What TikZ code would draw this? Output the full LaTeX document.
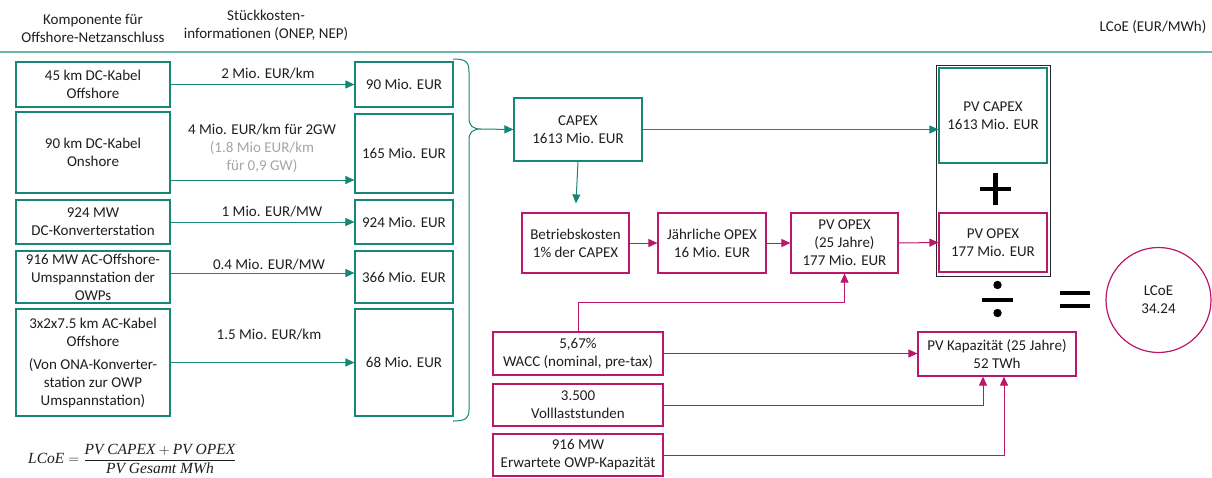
\documentclass[tikz,border=0pt]{standalone}
\usepackage{fontspec}
\setmainfont{Carlito}
\newfontfamily\fserif{Liberation Serif}
\usetikzlibrary{arrows.meta}
\definecolor{tealc}{RGB}{22,134,118}
\definecolor{teall}{RGB}{108,184,170}
\definecolor{magc}{RGB}{186,22,106}
\definecolor{txt}{RGB}{30,30,30}
\definecolor{grayt}{RGB}{165,165,165}
\begin{document}
\begin{tikzpicture}[x=1pt,y=-1pt,
  font=\fontsize{15}{18}\selectfont, text=txt,
  box/.style={draw, line width=1.2pt, align=center, inner sep=0pt, text=txt},
  tbox/.style={box, draw=tealc},
  mbox/.style={box, draw=magc},
  lbl/.style={align=center, inner sep=0pt, text=txt},
  tarr/.style={draw=tealc, line width=1pt, -{Triangle[length=9pt,width=8pt]}},
  marr/.style={draw=magc, line width=1pt, -{Triangle[length=9pt,width=8pt]}},
  sym/.style={line width=4.5pt, black}]
\useasboundingbox (0,0) rectangle (1212,477);

% header
\node[lbl] (h1) at (93,28) {Komponente für\\Offshore-Netzanschluss};
\node[lbl] (h2) at (266,25) {Stückkosten-\\informationen (ONEP, NEP)};
\node[lbl] (h3) at (1153,27) {LCoE (EUR/MWh)};
\coordinate (hl) at (0,52);
\coordinate (hr) at (1212,52);
\draw[teall, line width=1.6pt] (hl) -- (hr);

% left component boxes
\node[tbox, minimum width=154pt, minimum height=45pt] (l1) at (93,84.5) {45 km DC-Kabel\\Offshore};
\node[tbox, minimum width=154pt, minimum height=81pt] (l2) at (93,152.5) {90 km DC-Kabel\\Onshore};
\node[tbox, minimum width=154pt, minimum height=44pt] (l3) at (93,222) {924 MW\\DC-Konverterstation};
\node[tbox, minimum width=154pt, minimum height=52pt] (l4) at (93,277) {916 MW AC-Offshore-\\Umspannstation der\\OWPs};
\node[tbox, minimum width=154pt, minimum height=107pt] (l5) at (93,362.5) {3x2x7.5 km AC-Kabel\\Offshore\\[5pt](Von ONA-Konverter-\\station zur OWP\\Umspannstation)};

% cost boxes
\node[tbox, minimum width=98pt, minimum height=45pt] (c1) at (404,84.5) {90 Mio. EUR};
\node[tbox, minimum width=98pt, minimum height=79pt] (c2) at (404,153.5) {165 Mio. EUR};
\node[tbox, minimum width=98pt, minimum height=44pt] (c3) at (404,222) {924 Mio. EUR};
\node[tbox, minimum width=98pt, minimum height=52pt] (c4) at (404,277) {366 Mio. EUR};
\node[tbox, minimum width=98pt, minimum height=107pt] (c5) at (404,362.5) {68 Mio. EUR};

% arrows left -> cost
\draw[tarr] (l1.east) -- (c1.west);
\draw[tarr] (l2.east |- 0,180) -- (c2.west |- 0,180);
\draw[tarr] (l3.east) -- (c3.west);
\draw[tarr] (l4.east |- 0,273) -- (c4.west |- 0,273);
\draw[tarr] (l5.east) -- (c5.west);

% arrow labels
\node[lbl] (a1) at (268,74) {2 Mio. EUR/km};
\node[lbl] (a2) at (262,148) {4 Mio. EUR/km für 2GW\\{\color{grayt}(1.8 Mio EUR/km}\\{\color{grayt}für 0,9 GW)}};
\node[lbl] (a3) at (272,212) {1 Mio. EUR/MW};
\node[lbl] (a4) at (269,265) {0.4 Mio. EUR/MW};
\node[lbl] (a5) at (269,335) {1.5 Mio. EUR/km};

% brace
\coordinate (tip) at (481,129);
\coordinate (bt) at (453,59);
\coordinate (bb) at (453,421);
\draw[tealc, line width=1pt] (bt) .. controls (466,59) and (469,62) .. (469,72) -- (469,118)
  .. controls (469,126) and (473,129) .. (tip)
  .. controls (473,129) and (469,132) .. (469,140) -- (469,410)
  .. controls (469,418) and (466,421) .. (bb);

% CAPEX chain
\node[tbox, minimum width=128pt, minimum height=63pt] (capex) at (578,129.5) {CAPEX\\1613 Mio. EUR};
\draw[tarr] (tip) -- (capex.west);

\node[mbox, minimum width=107pt, minimum height=60pt] (betr) at (575.5,243) {Betriebskosten\\1\% der CAPEX};
\node[mbox, minimum width=108pt, minimum height=60pt] (jahr) at (712,243) {Jährliche OPEX\\16 Mio. EUR};
\node[mbox, minimum width=107pt, minimum height=60pt] (pvo) at (844.5,243) {PV OPEX\\(25 Jahre)\\177 Mio. EUR};

\draw[tarr, shorten >=9pt] (capex.south) -- (betr.north);
\draw[marr] (betr.east) -- (jahr.west);
\draw[marr] (jahr.east) -- (pvo.west);

% right stack
\node[draw=black!85, line width=0.9pt, minimum width=114pt, minimum height=211pt, inner sep=0pt] (outer) at (993,170.5) {};
\node[tbox, minimum width=108pt, minimum height=95pt] (pvc) at (993,115.5) {PV CAPEX\\1613 Mio. EUR};
\node[mbox, minimum width=108pt, minimum height=59pt] (pvo2) at (993,242.5) {PV OPEX\\177 Mio. EUR};
\draw[tarr] (capex.east) -- (pvc.west |- capex.east);
\draw[marr] (pvo.east) -- (pvo2.west);

% plus
\draw[sym] (980,189) -- (1011,189);
\draw[sym] (995.5,173) -- (995.5,205);
% divide
\draw[line width=4pt, black] (982,299.5) -- (1013,299.5);
\fill[black] (997.5,285) circle (4.2pt);
\fill[black] (997.5,313) circle (4.2pt);
% equals
\draw[line width=4.5pt, black] (1060,293) -- (1090,293);
\draw[line width=4.5pt, black] (1060,306) -- (1090,306);

% LCoE circle
\node[draw=magc, line width=1.2pt, circle, minimum size=105pt, inner sep=0pt, align=center] (lcoe) at (1158.5,300) {LCoE\\34.24};

% bottom inputs
\node[mbox, minimum width=158pt, minimum height=44pt] (pvk) at (997,354) {PV Kapazität (25 Jahre)\\52 TWh};
\node[mbox, minimum width=170pt, minimum height=43pt] (wacc) at (578,353.5) {5,67\%\\WACC (nominal, pre-tax)};
\node[mbox, minimum width=170pt, minimum height=42pt] (voll) at (578,405) {3.500\\Volllaststunden};
\node[mbox, minimum width=170pt, minimum height=42pt] (mw) at (578,455) {916 MW\\Erwartete OWP-Kapazität};

\draw[marr] (wacc.north) -- ++(0,-29) -| (pvo.south);
\draw[marr] (wacc.east) -- (pvk.west |- wacc.east);
\draw[marr] (voll.east) -| ([xshift=-14pt]pvk.south);
\draw[marr] (mw.east) -| ([xshift=7pt]pvk.south);

% formula
\node[anchor=west, inner sep=0pt] (f) at (28,459) {\fontsize{15.5}{19}\selectfont$\displaystyle \hbox{\fserif\itshape LCoE} = \frac{\hbox{\fserif\itshape PV CAPEX} + \hbox{\fserif\itshape PV OPEX}}{\hbox{\fserif\itshape PV Gesamt MWh}}$};
\end{tikzpicture}
\end{document}
